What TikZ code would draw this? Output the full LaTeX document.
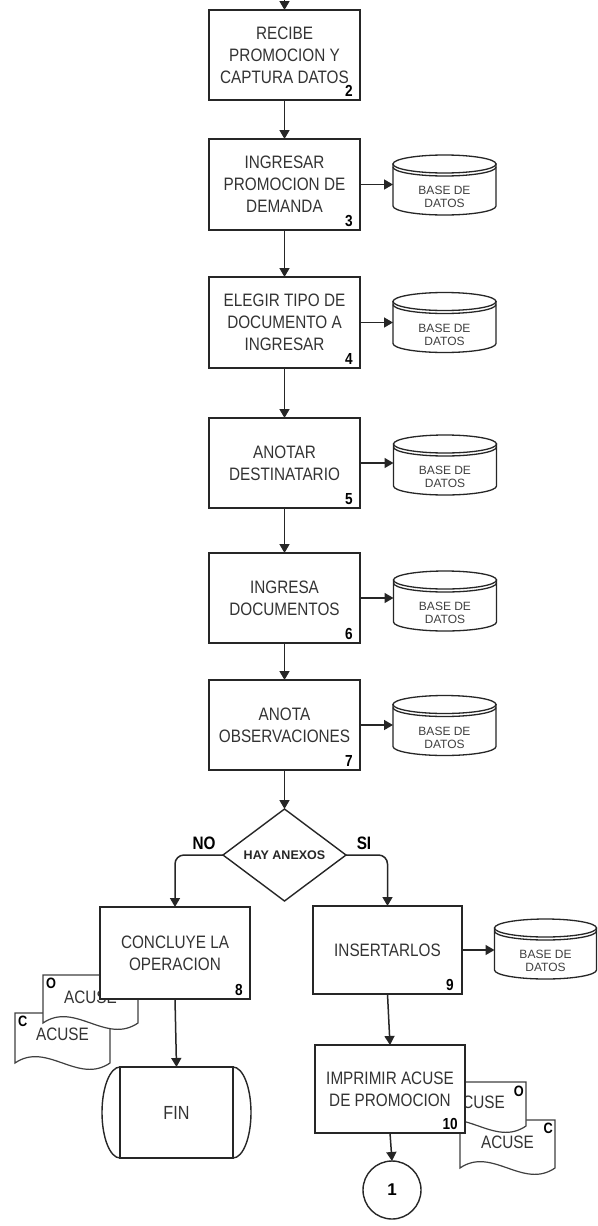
\documentclass[tikz,border=0pt]{standalone}
\usepackage{fontspec}
\setmainfont{Liberation Sans}
\newfontfamily\nar{Liberation Sans}[FakeStretch=0.85]
\usetikzlibrary{shapes.geometric,arrows.meta}
\tikzset{
  lncol/.style={draw=black!85},
  proc/.style={lncol, line width=1.6pt, fill=white, minimum width=151pt, minimum height=90pt,
    align=center, inner sep=2pt, outer sep=0pt, text=black!80, font=\nar\fontsize{18}{22}\selectfont},
  num/.style={font=\nar\bfseries\fontsize{16}{16}\selectfont, inner sep=0pt, anchor=south east, text=black},
  conn/.style={draw=black!85, line width=1.5pt, -{Triangle[length=9pt,width=10pt]}},
  dbbox/.style={minimum width=103pt, minimum height=60pt, inner sep=0pt, outer sep=0pt},
  dbline/.style={draw=black!85, line width=1.3pt, fill=white},
  dbtext/.style={align=center, inner sep=0pt, text=black!75, font=\fontsize{12}{13}\selectfont},
  docbox/.style={minimum width=95pt, minimum height=48pt, inner sep=0pt, outer sep=0pt},
  docline/.style={draw=black!75, line width=1.2pt, fill=white},
  doctext/.style={inner sep=0pt, text=black!80, font=\nar\fontsize{18}{22}\selectfont},
  letter/.style={inner sep=0pt, text=black, font=\nar\bfseries\fontsize{15}{15}\selectfont},
  yesno/.style={inner sep=0pt, text=black, font=\nar\bfseries\fontsize{18}{18}\selectfont},
  decision/.style={diamond, lncol, line width=1.4pt, fill=white, minimum width=123pt, minimum height=92pt,
    inner sep=0pt, outer sep=0pt, text=black!85, font=\bfseries\fontsize{12.5}{13}\selectfont},
  connector/.style={circle, lncol, line width=1.4pt, fill=white, minimum size=58pt, inner sep=0pt,
    outer sep=0pt, font=\bfseries\fontsize{17}{17}\selectfont},
  finbox/.style={minimum width=113pt, minimum height=91pt, inner sep=0pt, outer sep=0pt,
    text=black!80, font=\nar\fontsize{19}{22}\selectfont}
}
\newcommand\cyl[1]{%
  \path[dbline] ([yshift=-9pt]#1.north west) -- ([yshift=9pt]#1.south west)
     arc[start angle=180, end angle=360, x radius=51.5pt, y radius=9pt]
     -- ([yshift=-9pt]#1.north east) -- cycle;
  \draw[dbline] ([yshift=-9pt]#1.north) ellipse[x radius=51.5pt, y radius=9pt];
  \draw[dbline, fill=none] ([yshift=-12pt]#1.north west) arc[start angle=180, end angle=360, x radius=51.5pt, y radius=9pt];}
\newcommand\docshape[1]{%
  \path[docline] (#1.north west) -- (#1.north east) -- (#1.south east)
     .. controls +(-32,22) and +(32,-22) .. (#1.south west) -- cycle;}
\begin{document}
\begin{tikzpicture}[x=1pt,y=-1pt]
\useasboundingbox[fill=white] (0,0) rectangle (597,1226);

% process boxes
\node[proc] (b2) at (284.5,55) {RECIBE\\PROMOCION Y\\CAPTURA DATOS};
\node[num] (n2) at ([xshift=-7pt,yshift=3pt]b2.south east) {2};
\node[proc, minimum height=91pt] (b3) at (284.5,184.5) {INGRESAR\\PROMOCION DE\\DEMANDA};
\node[num] (n3) at ([xshift=-7pt,yshift=3pt]b3.south east) {3};
\node[proc, minimum height=91pt] (b4) at (284.5,322.5) {ELEGIR TIPO DE\\DOCUMENTO A\\INGRESAR};
\node[num] (n4) at ([xshift=-7pt,yshift=3pt]b4.south east) {4};
\node[proc] (b5) at (284.5,463) {ANOTAR\\DESTINATARIO};
\node[num] (n5) at ([xshift=-7pt,yshift=3pt]b5.south east) {5};
\node[proc] (b6) at (284.5,598) {INGRESA\\DOCUMENTOS};
\node[num] (n6) at ([xshift=-7pt,yshift=3pt]b6.south east) {6};
\node[proc] (b7) at (284.5,725) {ANOTA\\OBSERVACIONES};
\node[num] (n7) at ([xshift=-7pt,yshift=3pt]b7.south east) {7};

% databases
\foreach \nm/\px/\py in {db3/444.5/185, db4/444.5/322.5, db5/445/465, db6/445/601, db7/444.5/725.5}{
  \node[dbbox] (\nm) at (\px,\py) {};
  \cyl{\nm}
  \node[dbtext] (t\nm) at ([yshift=-12pt]\nm.center) {BASE DE\\DATOS};
}
\node[dbbox, minimum width=102pt] (db9) at (545.5,949) {};
\path[dbline] ([yshift=-9pt]db9.north west) -- ([yshift=9pt]db9.south west)
     arc[start angle=180, end angle=360, x radius=51pt, y radius=9pt]
     -- ([yshift=-9pt]db9.north east) -- cycle;
\draw[dbline] ([yshift=-9pt]db9.north) ellipse[x radius=51pt, y radius=9pt];
\draw[dbline, fill=none] ([yshift=-12pt]db9.north west) arc[start angle=180, end angle=360, x radius=51pt, y radius=9pt];
\node[dbtext] (tdb9) at ([yshift=-12pt]db9.center) {BASE DE\\DATOS};

% decision
\node[decision] (d) at (284.5,855) {HAY ANEXOS};
\node[yesno] (no) at (204,843) {NO};
\node[yesno] (si) at (364,843) {SI};

% left documents
\node[docbox, minimum height=50pt] (dCL) at (62.5,1038) {};
\docshape{dCL}
\node[doctext] (tCL) at ([yshift=-21pt]dCL.north) {ACUSE};
\node[letter, anchor=north west] (lCL) at ([xshift=3pt,yshift=-3pt]dCL.north west) {C};
\node[docbox] (dOL) at (90.5,999) {};
\docshape{dOL}
\node[doctext] (tOL) at ([yshift=-22pt]dOL.north) {ACUSE};
\node[letter, anchor=north west] (lOL) at ([xshift=3pt,yshift=-3pt]dOL.north west) {O};

\node[proc, minimum width=150pt, minimum height=92pt] (b8) at (175,953) {CONCLUYE LA\\OPERACION};
\node[num] (n8) at ([xshift=-7pt,yshift=3pt]b8.south east) {8};

% right documents
\node[docbox] (dCR) at (507.5,1144) {};
\docshape{dCR}
\node[doctext] (tCR) at ([yshift=-22pt]dCR.north) {ACUSE};
\node[letter, anchor=north east] (lCR) at ([xshift=-2pt,yshift=-3pt]dCR.north east) {C};
\node[docbox, minimum height=44pt] (dOR) at (478.5,1104) {};
\docshape{dOR}
\node[doctext] (tOR) at ([yshift=-20pt]dOR.north) {ACUSE};
\node[letter, anchor=north east] (lOR) at ([xshift=-2pt,yshift=-4pt]dOR.north east) {O};

\node[proc, minimum width=149pt, minimum height=88pt] (b9) at (387.5,950) {INSERTARLOS};
\node[num] (n9) at ([xshift=-8pt,yshift=3pt]b9.south east) {9};
\node[proc, minimum width=150pt, minimum height=88pt] (b10) at (390,1089) {IMPRIMIR ACUSE\\DE PROMOCION};
\node[num] (n10) at ([xshift=-7pt,yshift=3pt]b10.south east) {10};

% terminal
\node[finbox] (fin) at (176.5,1112.5) {FIN};
\draw[lncol, line width=1.4pt] (fin.north west) rectangle (fin.south east);
\draw[lncol, line width=1.4pt] (fin.north west) arc[start angle=90, end angle=270, x radius=18pt, y radius=45.5pt];
\draw[lncol, line width=1.4pt] (fin.north east) arc[start angle=90, end angle=-90, x radius=18pt, y radius=45.5pt];

\node[connector] (c1) at (392,1190) {1};

% connectors
\coordinate (start) at (284.5,-4);
\draw[conn] (start) -- (b2.north);
\draw[conn] (b2) -- (b3);
\draw[conn] (b3) -- (b4);
\draw[conn] (b4) -- (b5);
\draw[conn] (b5) -- (b6);
\draw[conn] (b6) -- (b7);
\draw[conn] (b7) -- (d);
\draw[conn] (b3.east) -- (db3.west |- b3.east);
\draw[conn] (b4.east) -- (db4.west |- b4.east);
\draw[conn] (b5.east) -- (db5.west |- b5.east);
\draw[conn] (b6.east) -- (db6.west |- b6.east);
\draw[conn] (b7.east) -- (db7.west |- b7.east);
\draw[conn] (b9.east) -- (db9.west |- b9.east);
\draw[conn, rounded corners=9pt] (d.west) -| (b8.north);
\draw[conn, rounded corners=9pt] (d.east) -| (b9.north);
\draw[conn] (b9.south) -- (b10.north);
\draw[conn] (b10.south) -- (c1.north);
\draw[conn] (b8.south) -- (fin.north);
\end{tikzpicture}
\end{document}
